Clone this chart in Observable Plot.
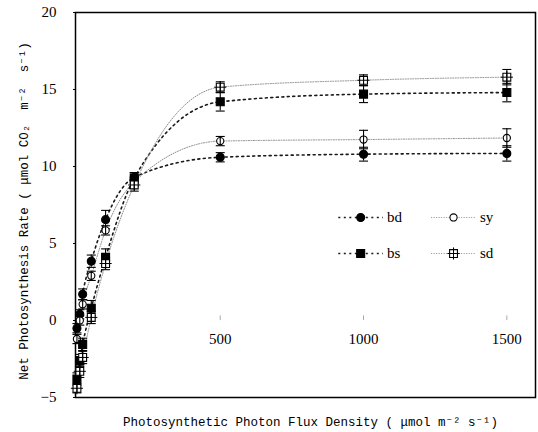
<!DOCTYPE html>
<html><head><meta charset="utf-8">
<script src="https://cdn.jsdelivr.net/npm/d3@7"></script>
<script src="https://cdn.jsdelivr.net/npm/@observablehq/plot@0.6"></script>
<style>html,body{margin:0;padding:0;background:#fff;} svg{display:block}</style>
</head><body><div id="chart"></div>
<script>
// ---- data ----
const ppfd  = [0, 10, 20, 50, 100, 200, 500, 1000, 1500];
const bd    = [-0.5, 0.4, 1.7, 3.85, 6.55, 9.3, 10.6, 10.8, 10.85];
const bdErr = [0.3, 0.3, 0.35, 0.4, 0.6, 0.3, 0.3, 0.45, 0.5];
const sy    = [-1.2, 0.0, 1.05, 2.9, 5.85, 9.0, 11.65, 11.75, 11.85];
const syErr = [0.3, 0.3, 0.3, 0.3, 0.3, 0.3, 0.3, 0.6, 0.6];
const bs    = [-3.8, -2.6, -1.55, 0.8, 4.1, 9.25, 14.2, 14.7, 14.8];
const bsErr = [0.4, 0.4, 0.4, 0.5, 0.55, 0.35, 0.6, 0.55, 0.6];
const sd    = [-4.4, -3.3, -2.4, 0.2, 3.7, 8.8, 15.15, 15.6, 15.8];
const sdErr = [0.3, 0.4, 0.4, 0.4, 0.4, 0.4, 0.35, 0.35, 0.5];
const seriesNames = ["bd", "sy", "bs", "sd"];
const yTicks = [-5, 0, 5, 10, 15, 20];
const xTicks = [500, 1000, 1500];
const xTitle = "Photosynthetic Photon Flux Density ( μmol m⁻² s⁻¹)";
const yTitle = "Net Photosynthesis Rate ( μmol CO₂  m⁻²  s⁻¹)";

// ---- build table ----
const values = {bd, sy, bs, sd};
const errors = {bd: bdErr, sy: syErr, bs: bsErr, sd: sdErr};
const rows = seriesNames.flatMap(s => ppfd.map((x, i) => ({
  series: s, x, y: values[s][i], lo: values[s][i] - errors[s][i], hi: values[s][i] + errors[s][i]
})));

// ---- styles ----
const style = {
  bd: {line: "#1a1a1a", lw: 1.6, dash: "2,3.5", symbol: "circle",  fill: "black", r: 4},
  sy: {line: "#8c8c8c", lw: 1,   dash: "1,1.5", symbol: "circle",  fill: "white", r: 3.6},
  bs: {line: "#1a1a1a", lw: 1.6, dash: "2,3.5", symbol: "square",  fill: "black", r: 4.5},
  sd: {line: "#8c8c8c", lw: 1,   dash: "1,1.5", symbol: "square2", fill: "white", r: 5}
};
const capSymbol = {draw(ctx, size) { const r = Math.sqrt(size / Math.PI); ctx.moveTo(-r, 0); ctx.lineTo(r, 0); }};

// legend layout (data units)
const legendItems = [
  {key: "bd", col: 0, row: 0}, {key: "sy", col: 1, row: 0},
  {key: "bs", col: 0, row: 1}, {key: "sd", col: 1, row: 1}
];
const colX = [990, 1314], rowY = [6.69, 4.35], halfLen = 78, textOff = 92;

const marks = [Plot.frame({stroke: "black", strokeWidth: 1.5})];
marks.push(Plot.axisY({ticks: yTicks, tickSize: 2, tickPadding: 17, label: null, fontSize: 15}));
marks.push(Plot.ruleX(xTicks, {x: d => d, y1: 0, y2: 0.3, stroke: "#aaa"}));
marks.push(Plot.text(xTicks, {x: d => d, y: 0, dy: 19, text: d => String(d), fontSize: 15}));

for (const s of seriesNames) {
  const st = style[s];
  const data = rows.filter(r => r.series === s);
  marks.push(Plot.line(data, {x: "x", y: "y", curve: "monotone-x", stroke: st.line, strokeWidth: st.lw, strokeDasharray: st.dash}));
}
for (const s of seriesNames) {
  const st = style[s];
  const data = rows.filter(r => r.series === s);
  marks.push(Plot.dot(data, {x: "x", y: "y", symbol: st.symbol, r: st.r, fill: st.fill, stroke: "black", strokeWidth: 1.1}));
  marks.push(Plot.ruleX(data, {x: "x", y1: "lo", y2: "hi", stroke: "black", strokeWidth: 1.1}));
  marks.push(Plot.dot(data, {x: "x", y: "lo", symbol: capSymbol, r: 4.5, fill: "none", stroke: "black", strokeWidth: 1.1}));
  marks.push(Plot.dot(data, {x: "x", y: "hi", symbol: capSymbol, r: 4.5, fill: "none", stroke: "black", strokeWidth: 1.1}));
  if (s === "sd") marks.push(Plot.dot(data, {x: "x", y: "y", symbol: "plus", r: 4, stroke: "black", strokeWidth: 1}));
}

// legend
for (const it of legendItems) {
  const st = style[it.key];
  marks.push(Plot.link([it], {x1: d => colX[d.col] - halfLen, x2: d => colX[d.col] + halfLen, y1: d => rowY[d.row], y2: d => rowY[d.row],
    stroke: st.line, strokeWidth: st.lw, strokeDasharray: st.dash}));
  marks.push(Plot.dot([it], {x: d => colX[d.col], y: d => rowY[d.row], symbol: st.symbol, r: st.r, fill: st.fill, stroke: "black", strokeWidth: 1.1}));
  if (it.key === "sd") marks.push(Plot.dot([it], {x: d => colX[d.col], y: d => rowY[d.row], symbol: "plus", r: 4, stroke: "black", strokeWidth: 1}));
}
marks.push(Plot.text(legendItems, {x: d => colX[d.col] + textOff, y: d => rowY[d.row], text: "key", textAnchor: "start", fontSize: 15}));

// titles
marks.push(Plot.text([xTitle], {frameAnchor: "bottom", dx: 5, dy: 24, text: d => d, textAnchor: "middle", lineAnchor: "middle",
  fontFamily: "'Liberation Mono', monospace", fontSize: 12.5}));
marks.push(Plot.text([yTitle], {frameAnchor: "left", dx: -52, dy: 6, rotate: -90, text: d => d, textAnchor: "middle", lineAnchor: "middle",
  fontFamily: "'Liberation Mono', monospace", fontSize: 12.5}));

const chart = Plot.plot({
  width: 538, height: 432,
  marginLeft: 75, marginRight: 3, marginTop: 12, marginBottom: 35,
  x: {domain: [-5, 1600], axis: null},
  y: {domain: [-5, 20], axis: null},
  style: {fontFamily: "'Liberation Serif', serif", fontSize: "15px", color: "black", background: "white"},
  marks
});
document.getElementById("chart").appendChild(chart);
</script>
</body></html>
